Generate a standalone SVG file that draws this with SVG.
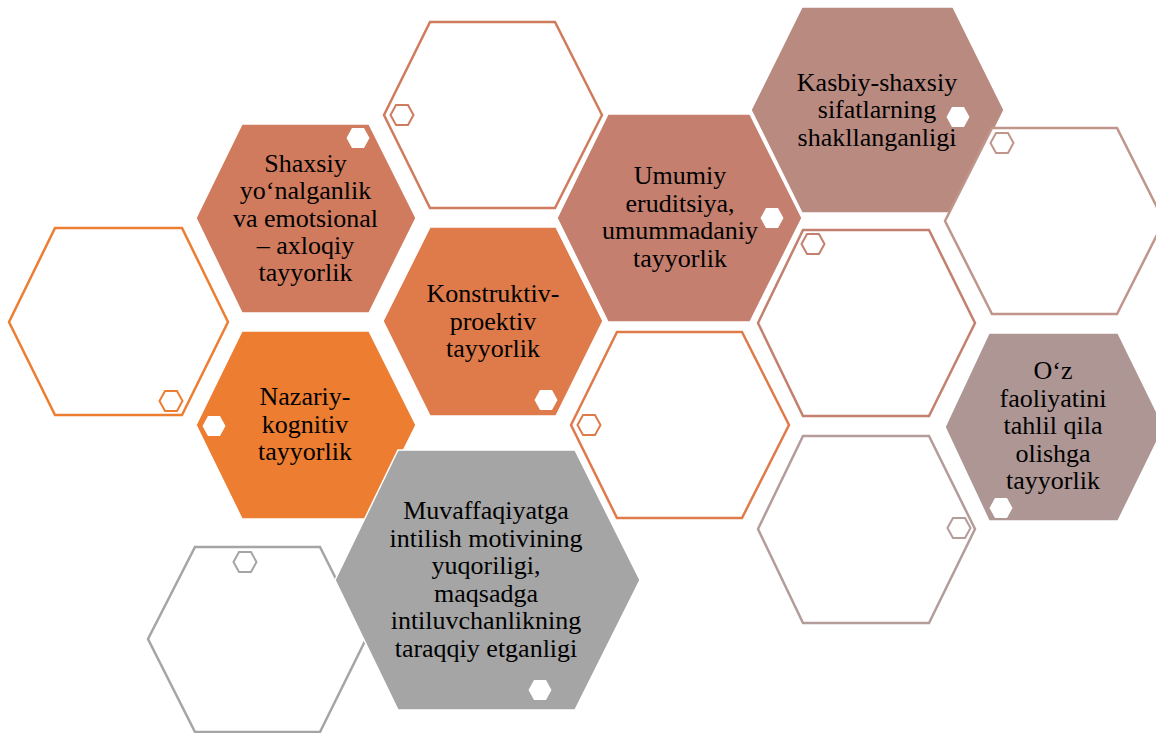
<svg xmlns="http://www.w3.org/2000/svg" width="1156" height="733" viewBox="0 0 1156 733">
<defs>
<style>
text{font-family:'Liberation Serif','DejaVu Serif',serif;font-size:26px;fill:#000;text-anchor:middle}
.ol{fill:#fff;stroke-width:2.5}
.fl{stroke:#fff;stroke-width:1.5}
.sw{fill:#fff}
.so{fill:#fff;stroke-width:2}
</style>
<path id="sh" d="M-11.5,0 L-6,-10 L6,-10 L11.5,0 L6,10 L-6,10 Z"/>
</defs>
<rect width="1156" height="733" fill="#fff"/>
<g id="connectors"></g>

<g id="hex-outline-left">
<polygon class="ol" stroke="#ED7D31" points="9,322 55,228 182,228 228,322 182,415 55,415"/>
<use href="#sh" x="171" y="401" class="so" stroke="#ED7D31"/>
</g>

<g id="hex-shaxsiy" font-family="Liberation Serif, serif">
<polygon class="fl" fill="#D17B5E" points="196,218 242,124 369,124 416,218 369,313 242,313"/>
<use href="#sh" x="358" y="138" class="sw"/>
<text x="305.5" y="171.5">Shaxsiy</text>
<text x="305.5" y="199">yo‘nalganlik</text>
<text x="305.5" y="226.5">va emotsional</text>
<text x="305.5" y="254">– axloqiy</text>
<text x="305.5" y="281">tayyorlik</text>
</g>

<g id="hex-outline-top">
<polygon class="ol" stroke="#D07B5E" points="384,115 430,22 555,22 602,115 555,208 430,208"/>
<use href="#sh" x="402" y="115" class="so" stroke="#D07B5E"/>
</g>

<g id="hex-konstruktiv">
<polygon class="fl" fill="#DF7B4A" points="383,321 430,227 556,227 603,321 556,416 430,416"/>
<use href="#sh" x="546" y="400" class="sw"/>
<text x="493" y="302">Konstruktiv-</text>
<text x="493" y="329.5">proektiv</text>
<text x="493" y="357">tayyorlik</text>
</g>

<g id="hex-nazariy">
<polygon class="fl" fill="#ED7D31" points="196,425 242,331 369,331 416,425 369,519 242,519"/>
<use href="#sh" x="214" y="426" class="sw"/>
<text x="305" y="405">Nazariy-</text>
<text x="305" y="433">kognitiv</text>
<text x="305" y="460">tayyorlik</text>
</g>

<g id="hex-umumiy">
<polygon class="fl" fill="#C47F6E" points="557,218 608,114 750,114 802,218 750,322 608,322"/>
<use href="#sh" x="772" y="218" class="sw"/>
<text x="680" y="184">Umumiy</text>
<text x="680" y="212">eruditsiya,</text>
<text x="680" y="239">umummadaniy</text>
<text x="680" y="267">tayyorlik</text>
</g>

<g id="hex-kasbiy">
<polygon class="fl" fill="#B98A80" points="751,110 802,7 953,7 1004,110 953,213 802,213"/>
<use href="#sh" x="958" y="117" class="sw"/>
<text x="877" y="90.5">Kasbiy-shaxsiy</text>
<text x="877" y="118">sifatlarning</text>
<text x="877" y="146">shakllanganligi</text>
</g>

<g id="hex-outline-right">
<polygon class="ol" stroke="#BF958C" points="945,221 992,128 1117,128 1164,221 1117,314 992,314"/>
<use href="#sh" x="1002" y="143" class="so" stroke="#BF958C"/>
</g>

<g id="hex-outline-middle">
<polygon class="ol" stroke="#C4806E" points="758,323 803,230 929,230 975,323 929,416 803,416"/>
<use href="#sh" x="813" y="244" class="so" stroke="#C4806E"/>
</g>

<g id="hex-outline-lower-orange">
<polygon class="ol" stroke="#DF7B4A" points="571,425 617,332 742,332 789,425 742,518 617,518"/>
<use href="#sh" x="589" y="425" class="so" stroke="#DF7B4A"/>
</g>

<g id="hex-outline-lower-right">
<polygon class="ol" stroke="#B49C9B" points="758,529 803,436 929,436 975,529 929,623 803,623"/>
<use href="#sh" x="959" y="528" class="so" stroke="#B49C9B"/>
</g>

<g id="hex-oz">
<polygon class="fl" fill="#AE9694" points="945,427 989,333 1118,333 1164,427 1118,521 989,521"/>
<use href="#sh" x="1001" y="508" class="sw"/>
<text x="1053" y="379">O‘z</text>
<text x="1053" y="407">faoliyatini</text>
<text x="1053" y="434">tahlil qila</text>
<text x="1053" y="462">olishga</text>
<text x="1053" y="489">tayyorlik</text>
</g>

<g id="hex-outline-gray">
<polygon class="ol" stroke="#A5A5A5" points="148,639 195,547 320,547 366,639 320,732 195,732"/>
<use href="#sh" x="245" y="562" class="so" stroke="#A5A5A5"/>
</g>

<g id="hex-muvaffaqiyat">
<polygon class="fl" fill="#A5A5A5" points="335,580 398,450 575,450 640,580 575,710 398,710"/>
<use href="#sh" x="540" y="690" class="sw"/>
<text x="486" y="519">Muvaffaqiyatga</text>
<text x="486" y="547">intilish motivining</text>
<text x="486" y="574">yuqoriligi,</text>
<text x="486" y="602">maqsadga</text>
<text x="486" y="629">intiluvchanlikning</text>
<text x="486" y="657">taraqqiy etganligi</text>
</g>
</svg>
